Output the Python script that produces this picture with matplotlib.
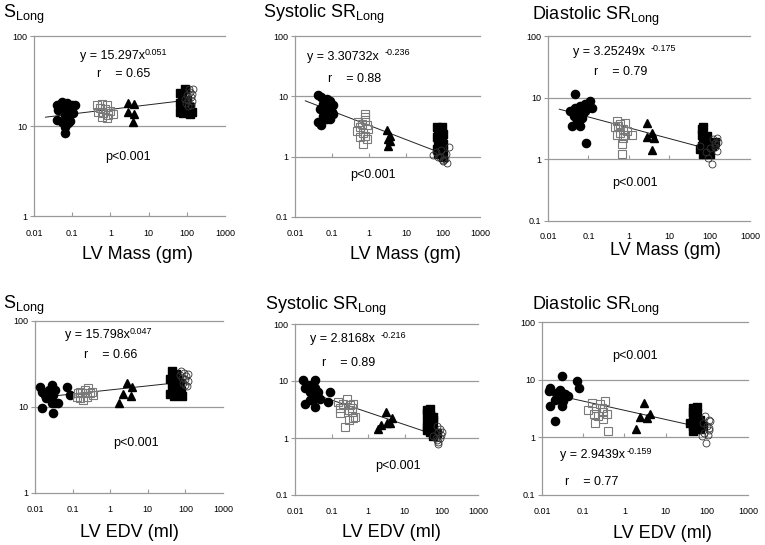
import matplotlib
matplotlib.use('Agg')
import matplotlib.pyplot as plt

plt.rcParams['font.family'] = ['Liberation Sans', 'DejaVu Sans']
plt.rcParams['mathtext.fontset'] = 'custom'
plt.rcParams['mathtext.rm'] = 'Liberation Sans'
plt.rcParams['mathtext.it'] = 'Liberation Sans:italic'
plt.rcParams['mathtext.bf'] = 'Liberation Sans:bold'

# ---------------- data ----------------
x_ticks = [0.01, 0.1, 1, 10, 100, 1000]
x_tick_labels = ['0.01', '0.1', '1', '10', '100', '1000']

# Panel 1: S_Long vs LV Mass
p1_circ_x = [0.039, 0.043, 0.053, 0.059, 0.072, 0.097, 0.118, 0.079, 0.107, 0.065, 0.039, 0.053, 0.088, 0.079, 0.065, 0.065]
p1_circ_y = [17.0, 15.0, 18.6, 15.8, 18.0, 17.0, 17.0, 14.4, 13.8, 13.2, 11.7, 11.2, 11.4, 10.7, 9.8, 8.4]
p1_osq_x = [0.44, 0.59, 0.8, 0.53, 0.72, 0.98, 0.48, 0.65, 0.88, 1.2, 0.59, 0.8]
p1_osq_y = [17.1, 17.5, 17.1, 15.7, 15.3, 14.8, 14.4, 13.8, 13.2, 13.5, 12.7, 12.2]
p1_tri_x = [2.9, 4.1, 2.9, 4.1, 4.0]
p1_tri_y = [18.2, 17.5, 14.3, 13.6, 11.2]
p1_fsq_x = [66, 89, 74, 99, 66, 89, 121, 74, 99, 134, 81, 121, 66]
p1_fsq_y = [23.0, 25.5, 20.3, 19.4, 17.9, 17.1, 16.4, 15.7, 15.1, 14.4, 13.8, 13.7, 14.4]
p1_ocirc_x = [142, 120, 100, 130, 110, 140, 95, 125, 105, 135, 115, 90]
p1_ocirc_y = [26.0, 24.0, 22.0, 21.0, 19.5, 19.0, 18.0, 17.0, 16.5, 22.5, 25.5, 20.0]

# Panel 2: Systolic SR_Long vs LV Mass
p2_circ_x = [0.043, 0.052, 0.072, 0.089, 0.058, 0.079, 0.047, 0.065, 0.098, 0.109, 0.058, 0.043, 0.052, 0.072, 0.089, 0.109]
p2_circ_y = [10.4, 9.7, 9.2, 8.5, 7.6, 7.1, 6.2, 5.8, 5.5, 5.1, 4.8, 3.7, 3.4, 4.2, 4.2, 7.3]
p2_osq_x = [0.78, 0.78, 0.78, 0.51, 0.63, 0.87, 0.57, 0.96, 0.46, 0.7, 0.78, 0.57, 0.87, 0.7]
p2_osq_y = [5.1, 4.5, 4.0, 3.7, 3.5, 3.3, 3.1, 2.9, 2.7, 2.5, 2.2, 2.1, 2.0, 1.6]
p2_tri_x = [3.0, 3.2, 3.6, 3.3, 3.8]
p2_tri_y = [2.8, 2.0, 1.8, 1.5, 2.2]
p2_fsq_x = [68, 92, 75, 102, 68, 92, 75, 102, 83, 68, 102, 83, 75, 100]
p2_fsq_y = [3.1, 3.1, 2.5, 2.4, 2.1, 2.0, 1.7, 1.6, 1.43, 1.34, 1.26, 1.18, 1.1, 1.0]
p2_ocirc_x = [55, 72, 98, 126, 145, 85, 110, 65, 90, 120, 100]
p2_ocirc_y = [1.08, 0.97, 0.88, 0.8, 1.45, 1.0, 0.9, 1.2, 1.3, 1.1, 0.85]

# Panel 3: Diastolic SR_Long vs LV Mass
p3_circ_x = [0.047, 0.11, 0.082, 0.062, 0.047, 0.035, 0.1, 0.12, 0.056, 0.075, 0.043, 0.068, 0.051, 0.039, 0.062, 0.082, 0.086]
p3_circ_y = [11.3, 8.8, 7.8, 7.3, 6.9, 6.1, 6.9, 6.9, 5.7, 5.7, 5.0, 4.7, 4.2, 3.5, 3.5, 6.1, 1.86]
p3_osq_x = [0.5, 0.61, 0.81, 0.45, 0.73, 0.89, 0.5, 0.61, 0.81, 1.18, 0.73, 0.67, 0.67, 0.55]
p3_osq_y = [4.2, 3.7, 3.9, 3.3, 3.06, 2.9, 2.5, 2.7, 2.5, 2.5, 2.25, 1.75, 1.2, 3.5]
p3_tri_x = [2.9, 2.8, 3.8, 4.1, 3.8]
p3_tri_y = [3.9, 2.3, 2.7, 2.2, 1.41]
p3_fsq_x = [70, 64, 64, 85, 70, 93, 64, 85, 113, 70, 103, 135, 125, 58]
p3_fsq_y = [3.3, 3.1, 2.5, 2.4, 1.98, 1.86, 1.64, 1.55, 1.64, 1.2, 1.2, 1.9, 1.75, 1.45]
p3_ocirc_x = [124, 149, 135, 165, 149, 93, 113, 58, 135, 100, 80]
p3_ocirc_y = [2.1, 2.25, 1.86, 1.9, 1.36, 1.05, 0.83, 1.64, 1.6, 1.5, 1.3]

# Panel 4: S_Long vs LV EDV
p4_circ_x = [0.0136, 0.015, 0.018, 0.023, 0.028, 0.025, 0.031, 0.034, 0.02, 0.028, 0.034, 0.015, 0.031, 0.042, 0.069, 0.085, 0.017]
p4_circ_y = [17.2, 15.1, 13.8, 15.8, 18.0, 14.4, 13.8, 15.8, 12.6, 11.0, 11.0, 9.7, 8.5, 11.0, 17.2, 13.8, 14.4]
p4_osq_x = [0.128, 0.158, 0.174, 0.21, 0.26, 0.29, 0.235, 0.32, 0.35, 0.142, 0.19, 0.158]
p4_osq_y = [13.2, 12.6, 14.4, 15.8, 16.6, 14.4, 13.2, 15.1, 13.8, 14.4, 12.0, 15.1]
p4_tri_x = [2.8, 3.7, 2.2, 3.6, 1.75]
p4_tri_y = [18.9, 16.9, 14.1, 13.4, 11.0]
p4_fsq_x = [45, 55, 40, 60, 50, 70, 45, 65, 55, 75, 40, 60, 80, 50]
p4_fsq_y = [26, 24, 21, 21, 19, 19, 17, 17.5, 15.5, 15.5, 14, 14, 13.5, 13.5]
p4_ocirc_x = [75, 90, 105, 80, 100, 115, 85, 95, 110, 70, 120]
p4_ocirc_y = [26, 25, 23, 22, 21, 20, 19, 18, 17.5, 23.5, 24.5]

# Panel 5: Systolic SR_Long vs LV EDV
p5_circ_x = [0.0169, 0.0188, 0.023, 0.026, 0.032, 0.035, 0.035, 0.039, 0.032, 0.043, 0.048, 0.0188, 0.035, 0.09, 0.081, 0.026, 0.0285]
p5_circ_y = [10.6, 7.4, 8.4, 6.4, 9.0, 10.3, 7.4, 5.6, 4.9, 6.4, 4.9, 4.0, 3.5, 6.4, 4.3, 4.6, 6.9]
p5_osq_x = [0.15, 0.21, 0.26, 0.32, 0.39, 0.17, 0.29, 0.17, 0.35, 0.44, 0.39, 0.29, 0.23, 0.35]
p5_osq_y = [4.3, 4.0, 4.9, 3.8, 4.0, 3.3, 3.1, 2.7, 2.9, 2.35, 2.2, 2.06, 1.57, 3.3]
p5_tri_x = [3.1, 4.4, 2.3, 3.2, 1.9, 4.0]
p5_tri_y = [2.9, 2.2, 1.69, 1.8, 1.42, 1.85]
p5_fsq_x = [40, 49, 40, 49, 60, 40, 49, 60, 40, 60, 49, 74, 40, 60]
p5_fsq_y = [3.1, 3.2, 2.7, 2.5, 2.35, 2.0, 1.8, 2.1, 1.57, 1.42, 1.3, 1.2, 1.4, 1.1]
p5_ocirc_x = [75, 92, 83, 103, 60, 92, 75, 83, 80, 100, 70]
p5_ocirc_y = [1.6, 1.45, 1.25, 1.3, 1.1, 1.0, 0.93, 0.85, 0.78, 1.15, 1.0]

# Panel 6: Diastolic SR_Long vs LV EDV
p6_circ_x = [0.03, 0.0156, 0.015, 0.027, 0.03, 0.036, 0.042, 0.069, 0.08, 0.0207, 0.03, 0.033, 0.0156, 0.03, 0.0207, 0.022]
p6_circ_y = [11.4, 7.2, 6.3, 6.7, 5.9, 5.6, 5.3, 9.3, 7.2, 4.5, 4.8, 4.2, 3.5, 3.5, 1.9, 5.9]
p6_osq_x = [0.16, 0.26, 0.34, 0.13, 0.21, 0.28, 0.31, 0.37, 0.18, 0.23, 0.31, 0.19, 0.41]
p6_osq_y = [4.0, 3.8, 4.2, 3.0, 3.25, 3.25, 2.8, 2.5, 2.5, 2.3, 2.04, 1.8, 1.28]
p6_tri_x = [3.0, 2.4, 3.5, 4.2, 1.9]
p6_tri_y = [3.9, 2.25, 2.2, 2.5, 1.4]
p6_fsq_x = [47, 57, 47, 57, 47, 69, 39, 57, 47, 69, 57, 47, 69, 83]
p6_fsq_y = [3.2, 3.3, 2.8, 2.6, 2.3, 2.0, 1.8, 1.9, 1.6, 1.7, 1.4, 1.3, 1.4, 1.6]
p6_ocirc_x = [92, 110, 120, 100, 110, 85, 75, 95, 105, 80, 115]
p6_ocirc_y = [2.3, 2.0, 1.9, 1.6, 1.35, 1.2, 1.05, 0.8, 1.1, 1.8, 1.45]

# fitted power laws y = a * x^b
fit_a = [15.297, 3.30732, 3.25249, 15.798, 2.8168, 2.9439]
fit_b = [0.051, -0.236, -0.175, 0.047, -0.216, -0.159]
fit_x0 = [0.02, 0.019, 0.019, 0.016, 0.05, 0.036]
fit_x1 = [60, 65, 65, 45, 45, 45]
coef_text = ['15.297', '3.30732', '3.25249', '15.798', '2.8168', '2.9439']
exp_text = ['0.051', '-0.236', '-0.175', '0.047', '-0.216', '-0.159']
r_text = ['0.65', '0.88', '0.79', '0.66', '0.89', '0.77']

titles = ['S$_{\\mathrm{Long}}$', 'Systolic SR$_{\\mathrm{Long}}$', 'Diastolic SR$_{\\mathrm{Long}}$',
          'S$_{\\mathrm{Long}}$', 'Systolic SR$_{\\mathrm{Long}}$', 'Diastolic SR$_{\\mathrm{Long}}$']
xlabels = ['LV Mass (gm)'] * 3 + ['LV EDV (ml)'] * 3

# ---------------- layout (pixels of a 765x545 canvas) ----------------
W, H = 765, 545
GRID = '#9a9a9a'

panels = [
    dict(box=(34, 36, 225, 216), ylim=(1, 100), circ=(p1_circ_x, p1_circ_y), osq=(p1_osq_x, p1_osq_y),
         tri=(p1_tri_x, p1_tri_y), fsq=(p1_fsq_x, p1_fsq_y), ocirc=(p1_ocirc_x, p1_ocirc_y),
         eq=(0.24, 0.87), gap=0, r=(0.33, 0.77), p=(0.37, 0.31), title=(3, 18), xl=(82, 259), xpad=9),
    dict(box=(295, 36, 480, 217), ylim=(0.1, 100), circ=(p2_circ_x, p2_circ_y), osq=(p2_osq_x, p2_osq_y),
         tri=(p2_tri_x, p2_tri_y), fsq=(p2_fsq_x, p2_fsq_y), ocirc=(p2_ocirc_x, p2_ocirc_y),
         eq=(0.065, 0.87), gap=4, r=(0.18, 0.745), p=(0.30, 0.215), title=(263, 18), xl=(350, 259), xpad=9),
    dict(box=(548, 36, 750, 221), ylim=(0.1, 100), circ=(p3_circ_x, p3_circ_y), osq=(p3_osq_x, p3_osq_y),
         tri=(p3_tri_x, p3_tri_y), fsq=(p3_fsq_x, p3_fsq_y), ocirc=(p3_ocirc_x, p3_ocirc_y),
         eq=(0.125, 0.895), gap=4, r=(0.23, 0.79), p=(0.32, 0.19), title=(532, 20), xl=(610, 255), xpad=8),
    dict(box=(35, 321, 223, 493), ylim=(1, 100), circ=(p4_circ_x, p4_circ_y), osq=(p4_osq_x, p4_osq_y),
         tri=(p4_tri_x, p4_tri_y), fsq=(p4_fsq_x, p4_fsq_y), ocirc=(p4_ocirc_x, p4_ocirc_y),
         eq=(0.16, 0.90), gap=0, r=(0.26, 0.785), p=(0.415, 0.275), title=(3, 309), xl=(80, 537), xpad=9),
    dict(box=(295, 324, 478, 495), ylim=(0.1, 100), circ=(p5_circ_x, p5_circ_y), osq=(p5_osq_x, p5_osq_y),
         tri=(p5_tri_x, p5_tri_y), fsq=(p5_fsq_x, p5_fsq_y), ocirc=(p5_ocirc_x, p5_ocirc_y),
         eq=(0.082, 0.895), gap=4, r=(0.15, 0.755), p=(0.44, 0.15), title=(265, 310), xl=(342, 537), xpad=9),
    dict(box=(542, 322, 748, 495), ylim=(0.1, 100), circ=(p6_circ_x, p6_circ_y), osq=(p6_osq_x, p6_osq_y),
         tri=(p6_tri_x, p6_tri_y), fsq=(p6_fsq_x, p6_fsq_y), ocirc=(p6_ocirc_x, p6_ocirc_y),
         eq=(0.087, 0.215), gap=1, r=(0.11, 0.06), p=(0.34, 0.785), title=(532, 310), xl=(613, 538), xpad=9),
]

fig = plt.figure(figsize=(W / 100, H / 100), dpi=100)

for i, pn in enumerate(panels):
    l, t, r, b = pn['box']
    ax = fig.add_axes([l / W, 1 - b / H, (r - l) / W, (b - t) / H])
    ax.set_xscale('log')
    ax.set_yscale('log')
    ax.set_xlim(x_ticks[0], x_ticks[-1])
    ax.set_ylim(*pn['ylim'])

    # decade grid lines
    ydec = [v for v in [0.1, 1, 10, 100] if pn['ylim'][0] <= v <= pn['ylim'][1]]
    for v in ydec:
        ax.axhline(v, color=GRID, lw=0.9, zorder=1, clip_on=False)
    # x tick marks on the y = 1 axis line
    ax.plot(x_ticks[1:-1], [1] * (len(x_ticks) - 2), ls='none', marker=2, ms=3,
            mew=0.8, color=GRID, clip_on=False, zorder=1)

    for s in ['top', 'right', 'bottom']:
        ax.spines[s].set_visible(False)
    ax.spines['left'].set_color(GRID)
    ax.spines['left'].set_linewidth(0.9)

    ax.set_xticks(x_ticks)
    ax.set_xticklabels(x_tick_labels, fontsize=6.5)
    ax.set_yticks(ydec)
    ax.set_yticklabels(['%g' % v for v in ydec], fontsize=6.5)
    ax.minorticks_off()
    ax.tick_params(axis='x', length=0, pad=pn['xpad'])
    ax.tick_params(axis='y', length=3, width=0.8, color=GRID, pad=2)
    ax.patch.set_alpha(0)

    # trend line
    a, bb = fit_a[i], fit_b[i]
    xs = [fit_x0[i] * (fit_x1[i] / fit_x0[i]) ** (k / 60) for k in range(61)]
    ax.plot(xs, [a * x ** bb for x in xs], color='#222222', lw=0.7, zorder=2)

    ax.plot(*pn['circ'], ls='none', marker='o', ms=5.9, mfc='black', mec='black', zorder=3)
    ax.plot(*pn['osq'], ls='none', marker='s', ms=5.3, mfc='none', mec='#7a7a7a', mew=0.8, zorder=3)
    ax.plot(*pn['tri'], ls='none', marker='^', ms=6.3, mfc='black', mec='black', zorder=3)
    ax.plot(*pn['fsq'], ls='none', marker='s', ms=5.3, mfc='black', mec='black', zorder=3)
    ax.plot(*pn['ocirc'], ls='none', marker='o', ms=5.0, mfc='none', mec='#333333', mew=0.6, zorder=3)

    # annotations
    ex, ey = pn['eq']
    te = ax.text(ex, ey, 'y = %sx' % coef_text[i], transform=ax.transAxes, fontsize=9,
                 ha='left', va='baseline')
    ax.annotate(exp_text[i], xy=(1, 1), xycoords=te, xytext=(pn['gap'], 1.5),
                textcoords='offset points', fontsize=6.5, ha='left', va='top')
    ax.text(pn['r'][0], pn['r'][1], 'r    = %s' % r_text[i], transform=ax.transAxes,
            fontsize=9, ha='left', va='baseline')
    ax.text(pn['p'][0], pn['p'][1], 'p<0.001', transform=ax.transAxes,
            fontsize=9, ha='left', va='baseline')

    fig.text(pn['title'][0] / W, 1 - pn['title'][1] / H, titles[i], fontsize=13,
             ha='left', va='baseline')
    fig.text(pn['xl'][0] / W, 1 - pn['xl'][1] / H, xlabels[i], fontsize=13,
             ha='left', va='baseline')

fig.savefig('out.png', dpi=100)
